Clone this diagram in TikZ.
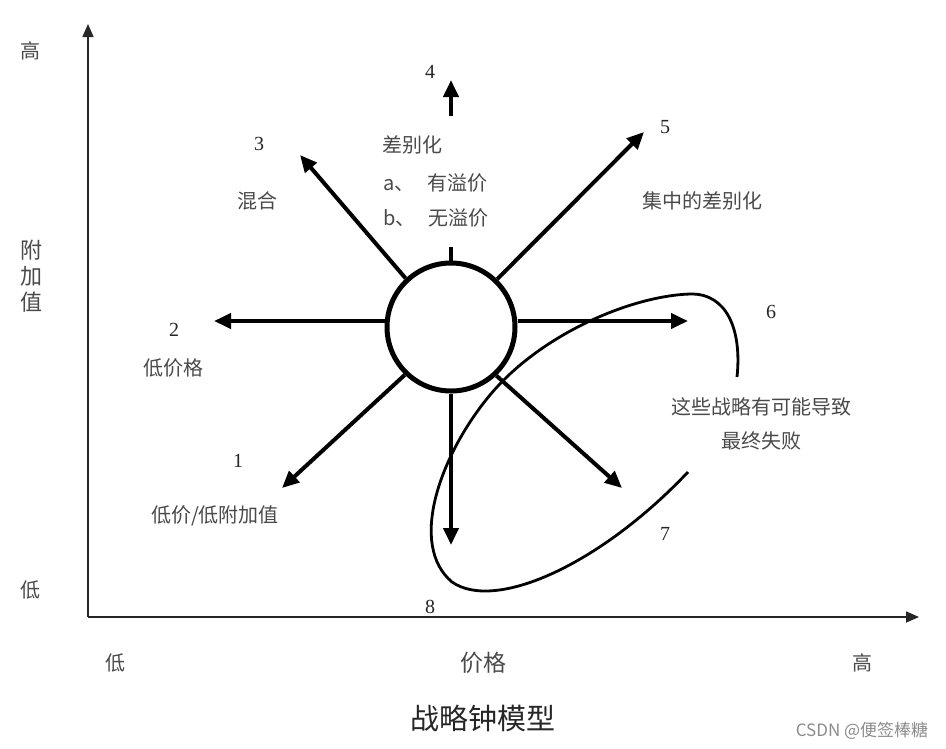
\documentclass[tikz,border=0pt]{standalone}
\usepackage{fontspec}
\setmainfont{Liberation Serif}
\newfontfamily\cjk{Noto Sans CJK SC}
\usetikzlibrary{arrows.meta}
\definecolor{lbl}{HTML}{4A4A4A}
\tikzset{
  bigarrow/.style={line width=4, -{Triangle[length=17,width=15]}},
  axisline/.style={line width=1.6, color=black!85, -{Triangle[length=13,width=11]}},
  lab/.style={text=lbl, font=\fontsize{20}{22}\selectfont\cjk, inner sep=0},
  num/.style={text=black!85, font=\fontsize{20}{22}\selectfont, inner sep=0},
}
\begin{document}
\begin{tikzpicture}[x=1pt,y=-1pt]
\useasboundingbox (0,0) rectangle (946,748);
\fill[white] (0,0) rectangle (946,748);
% axes
\coordinate (o) at (88,617);
\coordinate (ytip) at (88,24);
\coordinate (xtip) at (919,617);
\draw[axisline] (o) -- (ytip);
\draw[axisline] (o) -- (xtip);
% centre circle
\node[circle, draw, line width=5, minimum size=128, inner sep=0, fill=white] (c) at (451,327) {};
% arrow tips
\coordinate (t1) at (282,488);
\coordinate (t2) at (214,321);
\coordinate (t3) at (300,155);
\coordinate (t4) at (451,80);
\coordinate (b4) at (451,116);
\coordinate (s4) at (451,247);
\coordinate (t5) at (644,132);
\coordinate (t6) at (688,321);
\coordinate (t7) at (622,488);
\coordinate (t8) at (451,545);
\draw[bigarrow] (c.226) -- (t1);
\draw[bigarrow] (c.west |- t2) -- (t2);
\draw[bigarrow] (c.133) -- (t3);
\draw[bigarrow] (b4) -- (t4);
\draw[line width=4] (c.north) -- (s4);
\draw[bigarrow] (c.46) -- (t5);
\draw[bigarrow] (c.east |- t6) -- (t6);
\draw[bigarrow] (c.313) -- (t7);
\draw[bigarrow] (c.south) -- (t8);
% failure curve
\draw[line width=2.8] (737,377) .. controls (742,330) and (727,293) .. (690,294)
  .. controls (630,296) and (540,335) .. (490,395)
  .. controls (440,455) and (408,545) .. (452,582)
  .. controls (495,612) and (600,565) .. (688,472);
% labels
\node[num] (n1) at (238,461) {1};
\node[lab] (l1) at (215,516) {低价/低附加值};
\node[num] (n2) at (174,330) {2};
\node[lab] (l2) at (173,368) {低价格};
\node[num] (n3) at (259,144) {3};
\node[lab] (l3) at (257,201) {混合};
\node[num] (n4) at (430,72) {4};
\node[lab] (l4) at (412,145) {差别化};
\node[lab, anchor=west] (l4a) at (383,183) {a、\hspace{13pt}有溢价};
\node[lab, anchor=west] (l4b) at (383,218) {b、\hspace{13pt}无溢价};
\node[num] (n5) at (665,127) {5};
\node[lab] (l5) at (702,201) {集中的差别化};
\node[num] (n6) at (771,312) {6};
\node[lab] (f1) at (761,407) {这些战略有可能导致};
\node[lab] (f2) at (761,441) {最终失败};
\node[num] (n7) at (665,534) {7};
\node[num] (n8) at (430,607) {8};
% axis labels
\node[lab] (yh) at (30,51) {高};
\node[lab, align=center, font=\fontsize{22}{26}\selectfont\cjk] (yl) at (31,276) {附\\加\\值};
\node[lab] (yd) at (30,590) {低};
\node[lab] (xd) at (115,663) {低};
\node[lab, font=\fontsize{23}{25}\selectfont\cjk] (xl) at (483,663) {价格};
\node[lab] (xh) at (862,663) {高};
\node[inner sep=0, text=black!85, font=\fontsize{29}{31}\selectfont\cjk] (title) at (483,718) {战略钟模型};
\node[inner sep=0, text=black!45, font=\fontsize{17}{19}\selectfont\cjk] (wm) at (862,731) {CSDN @便签棒糖};
\end{tikzpicture}
\end{document}
